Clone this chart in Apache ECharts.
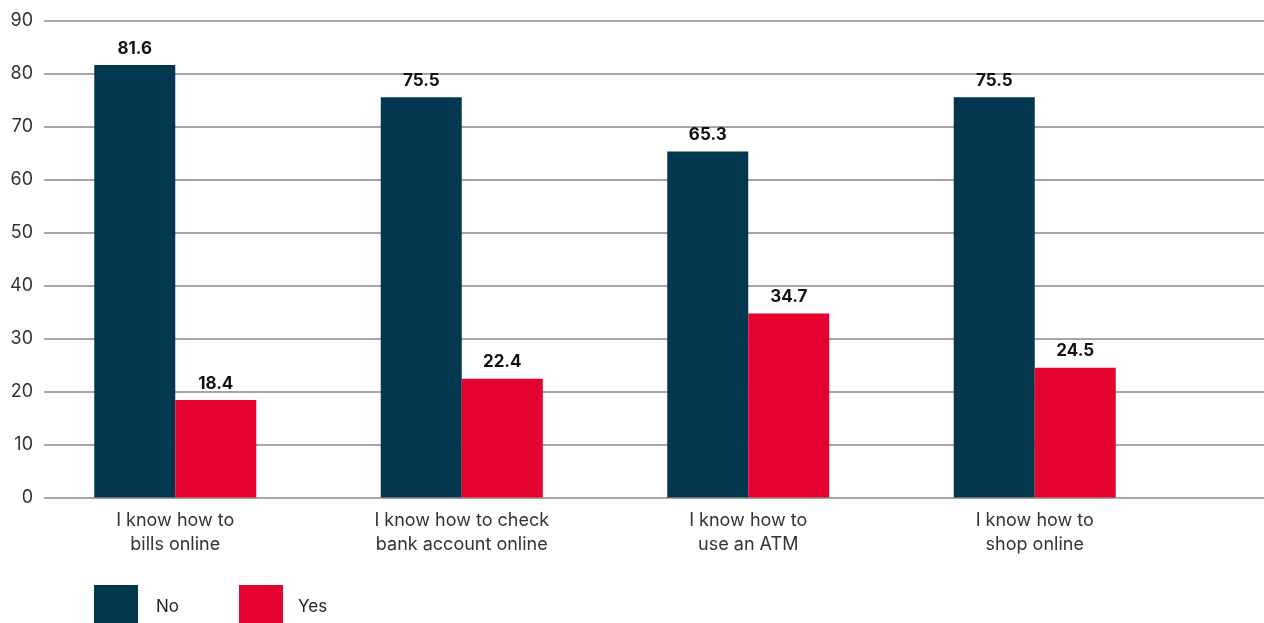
<!DOCTYPE html>
<html>
<head>
<meta charset="utf-8">
<script src="https://cdn.jsdelivr.net/npm/echarts@6/dist/echarts.min.js"></script>
<style>html,body{margin:0;padding:0;background:#fff}#c{width:1264px;height:623px}</style>
</head>
<body>
<div id="c"></div>
<script>
const categories = ["I know how to\nbills online", "I know how to check\nbank account online", "I know how to\nuse an ATM", "I know how to\nshop online"];
const noValues = [81.6, 75.5, 65.3, 75.5];
const yesValues = [18.4, 22.4, 34.7, 24.5];
const seriesNames = ["No", "Yes"];
const yTicks = [0, 10, 20, 30, 40, 50, 60, 70, 80, 90];

const FONT = "Inter";
const chart = echarts.init(document.getElementById('c'), null, {renderer: 'canvas'});
const legendText = {fontFamily: FONT, fontSize: 17, color: '#222'};
chart.setOption({
  animation: false,
  color: ['#02374f', '#e4032e'],
  grid: [
    {left: 44, right: 0, top: 20.5, bottom: 125.5},
    {left: 32, width: 1146, top: 20.5, bottom: 125.5}
  ],
  legend: [
    {data: [seriesNames[0]], left: 94, top: 585, padding: 0, itemWidth: 44, itemHeight: 44, icon: 'rect',
     textStyle: Object.assign({padding: [0, 0, 16, 13]}, legendText), selectedMode: false},
    {data: [seriesNames[1]], left: 239, top: 585, padding: 0, itemWidth: 44, itemHeight: 44, icon: 'rect',
     textStyle: Object.assign({padding: [0, 0, 2, 10]}, legendText), selectedMode: false}
  ],
  xAxis: [
    {type: 'category', gridIndex: 0, data: categories, show: false},
    {type: 'category', gridIndex: 1, data: categories,
     axisLine: {show: false}, axisTick: {show: false},
     axisLabel: {fontFamily: FONT, fontSize: 18, color: '#333', lineHeight: 24, margin: 11, interval: 0}}
  ],
  yAxis: [
    {type: 'value', gridIndex: 0, min: yTicks[0], max: yTicks[yTicks.length - 1], interval: 10,
     axisLine: {show: false}, axisTick: {show: false},
     axisLabel: {fontFamily: FONT, fontSize: 18, color: '#333', margin: 11},
     splitLine: {lineStyle: {color: '#a6a6a6', width: 2}}},
    {type: 'value', gridIndex: 1, min: yTicks[0], max: yTicks[yTicks.length - 1], interval: 10, show: false,
     splitLine: {show: false}}
  ],
  series: [
    {name: seriesNames[0], type: 'bar', xAxisIndex: 1, yAxisIndex: 1, data: noValues, barWidth: 81, barGap: '0%',
     label: {show: true, position: 'top', distance: 8, fontFamily: FONT, fontSize: 17, fontWeight: 'bold', color: '#111'}},
    {name: seriesNames[1], type: 'bar', xAxisIndex: 1, yAxisIndex: 1, data: yesValues, barWidth: 81, barGap: '0%',
     label: {show: true, position: 'top', distance: 8, fontFamily: FONT, fontSize: 17, fontWeight: 'bold', color: '#111'}}
  ]
});
</script>
</body>
</html>
